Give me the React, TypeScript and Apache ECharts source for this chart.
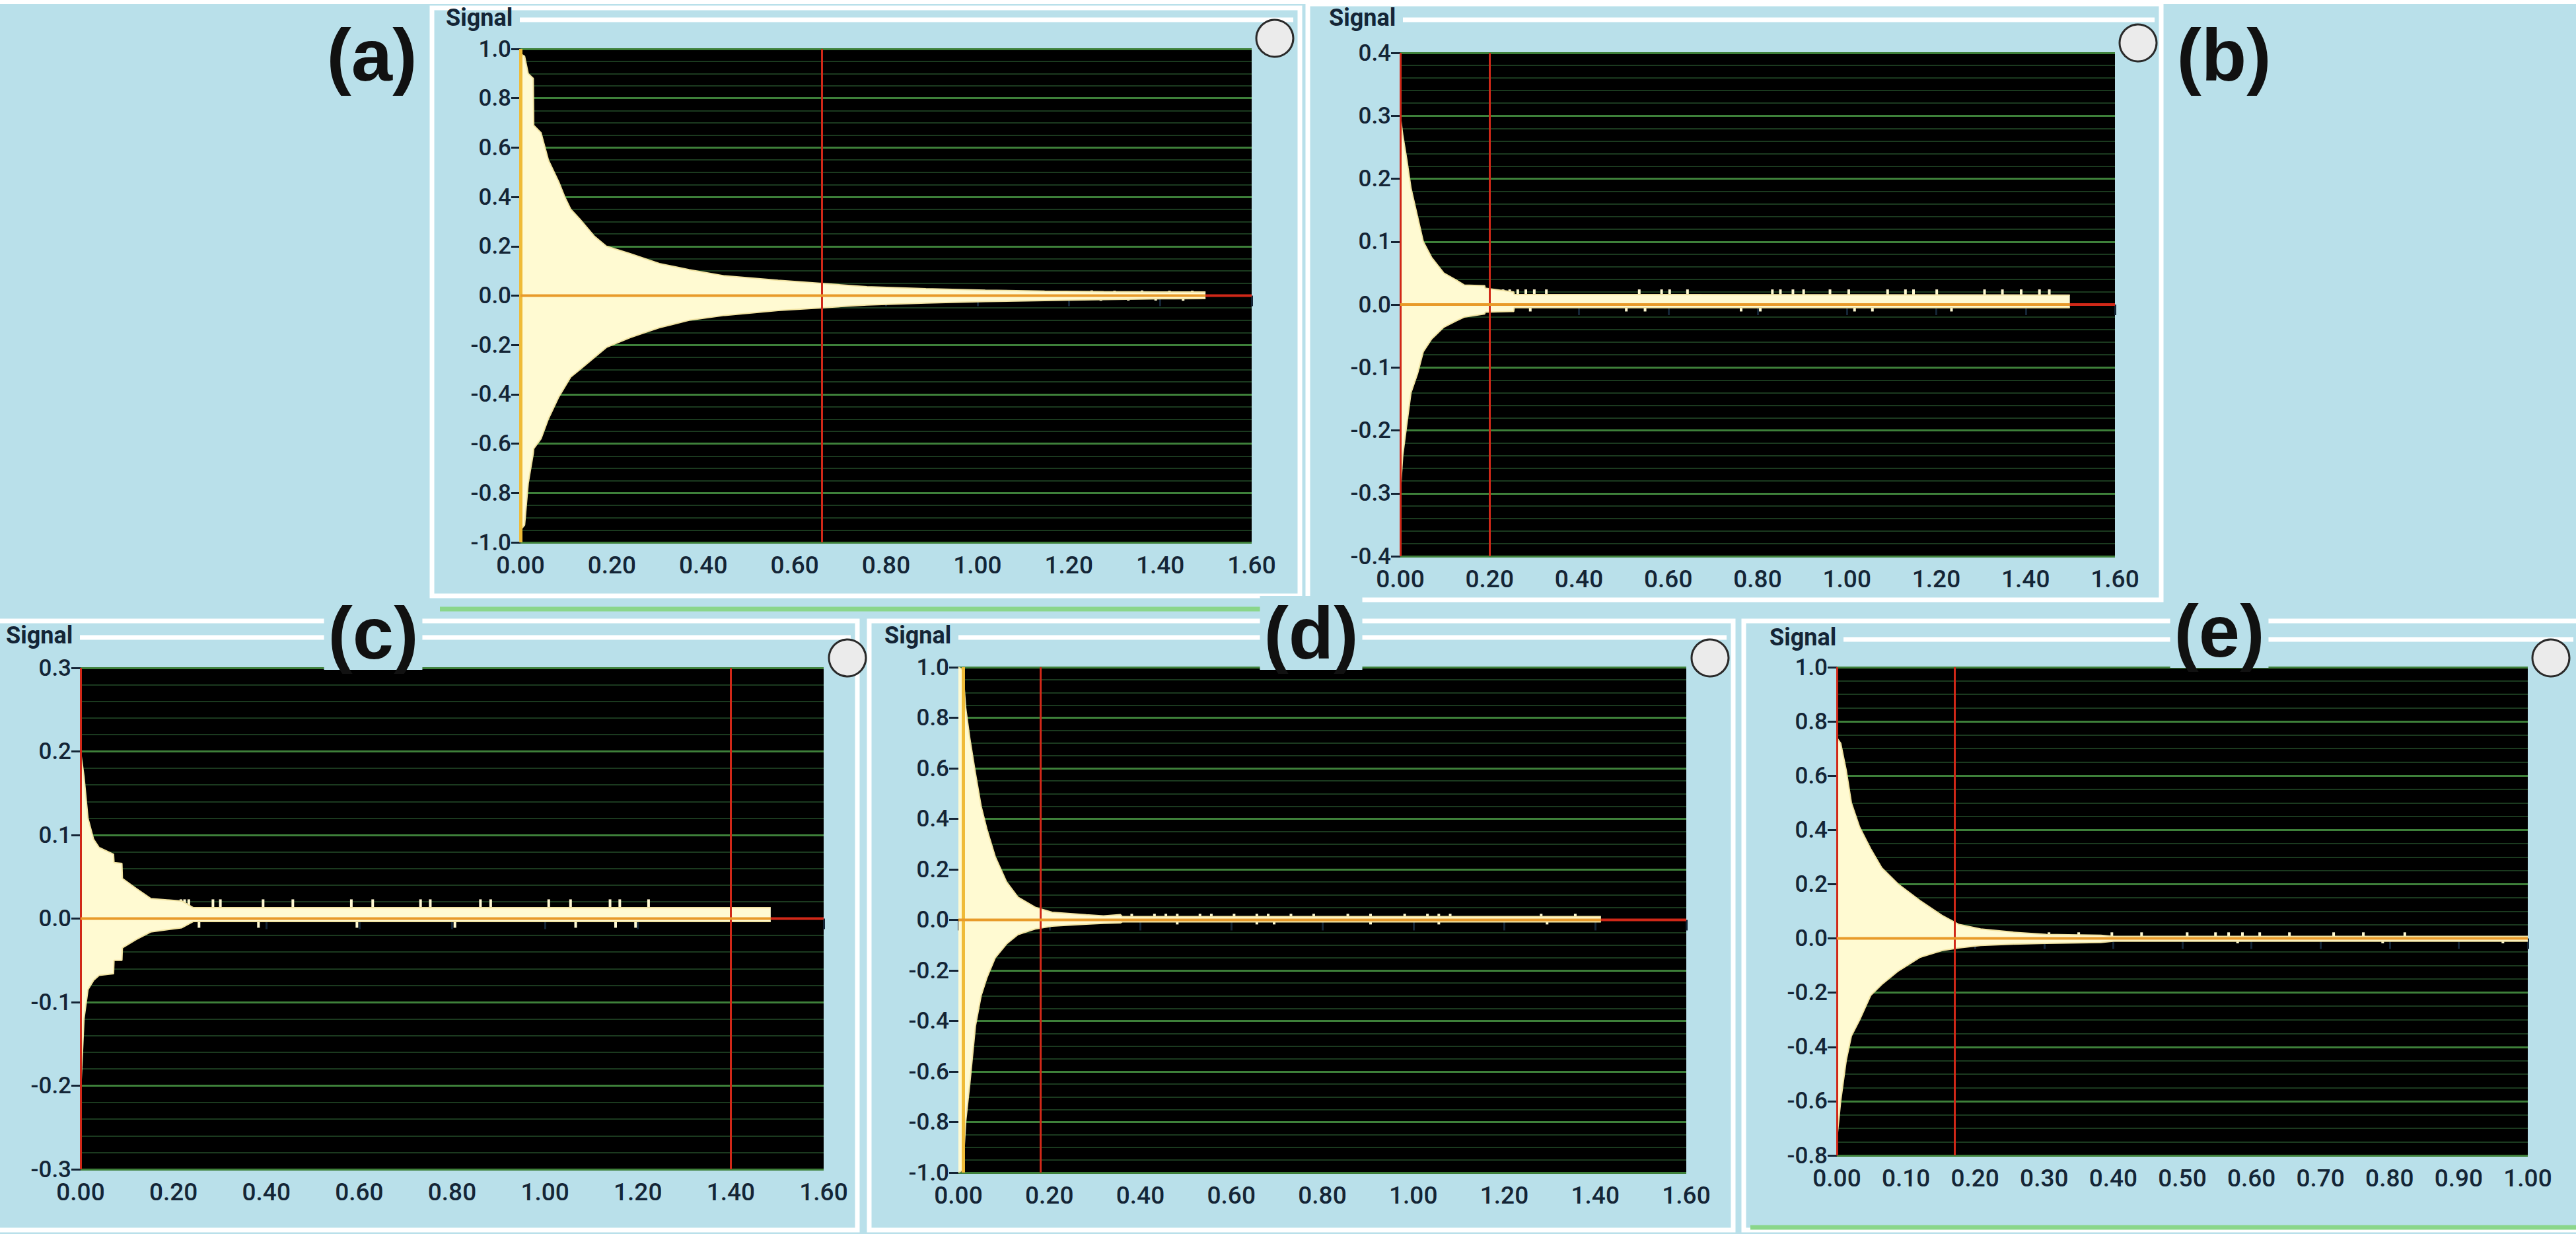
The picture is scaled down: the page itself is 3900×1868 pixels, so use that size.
import { useEffect, useRef } from 'react'
import * as echarts from 'echarts'

// decay envelopes: time (s), upper and lower signal
const tA = [0, 0.009, 0.017, 0.028, 0.029, 0.045, 0.061, 0.084, 0.097, 0.110, 0.130, 0.162, 0.188, 0.240, 0.304, 0.369, 0.447, 0.564, 0.654, 0.758, 0.887, 1.017, 1.147, 1.276, 1.400, 1.499]
const upA = [0.98, 0.97, 0.90, 0.88, 0.69, 0.66, 0.55, 0.46, 0.40, 0.35, 0.31, 0.24, 0.20, 0.17, 0.13, 0.105, 0.08, 0.062, 0.05, 0.036, 0.028, 0.022, 0.018, 0.016, 0.015, 0.015]
const loA = [-0.95, -0.93, -0.76, -0.64, -0.62, -0.58, -0.50, -0.41, -0.37, -0.33, -0.30, -0.25, -0.21, -0.17, -0.13, -0.10, -0.08, -0.06, -0.05, -0.038, -0.03, -0.024, -0.02, -0.016, -0.013, -0.012]
const spikesA = [[1.18, 0.02], [1.22, -0.02], [1.25, 0.021], [1.27, -0.021], [1.30, 0.02], [1.33, -0.02], [1.36, 0.021], [1.39, -0.02], [1.42, 0.02], [1.45, -0.021], [1.47, 0.02]]
const endA = 1.499
const cursorA = [0.004, 0.66]

const tB = [0, 0.0055, 0.0147, 0.024, 0.0386, 0.0515, 0.070, 0.0975, 0.125, 0.143, 0.189, 0.19, 0.254, 0.255, 1.499]
const upB = [0.30, 0.27, 0.23, 0.185, 0.14, 0.10, 0.075, 0.05, 0.039, 0.031, 0.03, 0.026, 0.02, 0.016, 0.015]
const loB = [-0.30, -0.24, -0.19, -0.14, -0.11, -0.075, -0.055, -0.036, -0.026, -0.02, -0.015, -0.012, -0.011, -0.005, -0.005]
const spikesB = [[0.230, 0.024], [0.245, 0.024], [0.263, 0.024], [0.281, 0.024], [0.291, -0.011], [0.300, 0.024], [0.327, 0.024], [0.506, -0.011], [0.535, 0.024], [0.548, -0.011], [0.585, 0.024], [0.603, 0.024], [0.643, 0.024], [0.763, -0.011], [0.806, -0.011], [0.833, 0.024], [0.851, 0.024], [0.879, 0.024], [0.903, 0.024], [0.962, 0.024], [1.004, 0.024], [1.017, -0.011], [1.057, -0.011], [1.091, 0.024], [1.131, 0.024], [1.149, 0.024], [1.201, 0.024], [1.234, -0.011], [1.308, 0.024], [1.348, 0.024], [1.390, 0.024], [1.431, 0.024], [1.453, 0.024]]
const endB = 1.499
const cursorB = [0, 0.195]

const tC = [0, 0.0074, 0.016, 0.028, 0.040, 0.071, 0.072, 0.089, 0.090, 0.120, 0.151, 0.218, 0.243, 1.486]
const upC = [0.20, 0.17, 0.12, 0.095, 0.085, 0.077, 0.067, 0.066, 0.048, 0.036, 0.024, 0.021, 0.013, 0.013]
const loC = [-0.21, -0.12, -0.085, -0.074, -0.068, -0.066, -0.05, -0.05, -0.035, -0.025, -0.016, -0.011, -0.0035, -0.0035]
const spikesC = [[0.154, -0.011], [0.206, -0.011], [0.216, 0.023], [0.224, 0.023], [0.233, 0.023], [0.255, -0.011], [0.285, 0.023], [0.301, 0.023], [0.383, -0.011], [0.393, 0.023], [0.457, 0.023], [0.583, 0.023], [0.595, -0.011], [0.629, 0.023], [0.732, 0.023], [0.753, 0.023], [0.806, -0.011], [0.861, 0.023], [0.883, 0.023], [1.008, 0.023], [1.055, 0.023], [1.066, -0.011], [1.140, 0.023], [1.152, -0.011], [1.161, 0.023], [1.195, -0.011], [1.223, 0.023]]
const endC = 1.486
const cursorC = [0, 1.40]

const tD = [0, 0.01, 0.016, 0.025, 0.0375, 0.05, 0.0625, 0.081, 0.106, 0.131, 0.169, 0.206, 0.281, 0.319, 0.356, 0.36, 1.4125]
const upD = [1.0, 0.99, 0.84, 0.72, 0.58, 0.45, 0.36, 0.25, 0.15, 0.09, 0.05, 0.03, 0.02, 0.016, 0.021, 0.013, 0.013]
const loD = [-1.0, -0.99, -0.80, -0.65, -0.42, -0.30, -0.23, -0.15, -0.095, -0.058, -0.036, -0.025, -0.017, -0.014, -0.012, -0.008, -0.008]
const spikesD = [[0.381, 0.024], [0.431, 0.024], [0.456, 0.024], [0.481, 0.024], [0.481, -0.018], [0.531, 0.024], [0.556, 0.024], [0.606, 0.024], [0.656, 0.024], [0.656, -0.018], [0.681, 0.024], [0.694, -0.018], [0.731, 0.024], [0.781, 0.024], [0.856, 0.024], [0.906, 0.024], [0.906, -0.018], [0.981, 0.024], [1.031, 0.024], [1.056, 0.024], [1.056, -0.018], [1.081, 0.024], [1.281, 0.024], [1.294, -0.018], [1.356, 0.024]]
const endD = 1.4125
const cursorD = [0.01, 0.18]

const tE = [0, 0.0055, 0.0135, 0.021, 0.033, 0.049, 0.065, 0.089, 0.120, 0.152, 0.176, 0.208, 0.255, 0.303, 0.382, 0.40, 1.0]
const upE = [0.74, 0.72, 0.62, 0.50, 0.41, 0.33, 0.26, 0.20, 0.14, 0.085, 0.052, 0.035, 0.023, 0.015, 0.012, 0.0075, 0.0075]
const loE = [-0.74, -0.60, -0.45, -0.36, -0.30, -0.21, -0.17, -0.12, -0.07, -0.045, -0.035, -0.026, -0.021, -0.018, -0.015, -0.0105, -0.0105]
const spikesE = [[0.307, 0.0225], [0.350, 0.0225], [0.398, 0.0225], [0.441, 0.0225], [0.507, 0.0225], [0.548, 0.0225], [0.567, 0.0225], [0.580, -0.018], [0.587, 0.0225], [0.612, 0.0225], [0.655, 0.0225], [0.719, 0.0225], [0.762, 0.0225], [0.790, -0.018], [0.822, 0.0225], [0.964, -0.018]]
const endE = 1.0
const cursorE = [0, 0.175]

const letters = ['(a)', '(b)', '(c)', '(d)', '(e)']

const BLUE = '#b9e0ea'
const FILL = '#fffad2'
const EDGE = '#f1e3a2'
const ORANGE = '#e89a2a'
const RED = '#d02818'
const GOLD = '#efbb38'
const MAJOR = '#3e803a'
const MINOR = '#1b3a1f'
const INK = '#142536'
const LABEL_FONT = 'Roboto, "Liberation Sans", sans-serif'

const panels = [
  { grid: { left: 788, top: 74, width: 1107, height: 747 }, xMax: 1.6, xStep: 0.2, yMin: -1, yMax: 1, yStep: 0.2, minor: 4,
    t: tA, up: upA, lo: loA, spikes: spikesA, end: endA, cursors: cursorA, cursorColors: [GOLD, RED],
    frame: [654, 12, 1314, 890], signal: [675, 27], knob: [1930, 58], letter: [563, 83] },
  { grid: { left: 2120, top: 80, width: 1082, height: 762 }, xMax: 1.6, xStep: 0.2, yMin: -0.4, yMax: 0.4, yStep: 0.1, minor: 5,
    t: tB, up: upB, lo: loB, spikes: spikesB, end: endB, cursors: cursorB, cursorColors: [RED, RED],
    frame: [1980, 6, 1292, 902], signal: [2012, 27], knob: [3237, 65], letter: [3367, 83] },
  { grid: { left: 122, top: 1011, width: 1125, height: 759 }, xMax: 1.6, xStep: 0.2, yMin: -0.3, yMax: 0.3, yStep: 0.1, minor: 5,
    t: tC, up: upC, lo: loC, spikes: spikesC, end: endC, cursors: cursorC, cursorColors: [RED, RED],
    frame: [-4, 940, 1302, 922], signal: [9, 962], knob: [1283, 996], letter: [565, 958] },
  { grid: { left: 1451, top: 1010, width: 1102, height: 765 }, xMax: 1.6, xStep: 0.2, yMin: -1, yMax: 1, yStep: 0.2, minor: 4,
    t: tD, up: upD, lo: loD, spikes: spikesD, end: endD, cursors: cursorD, cursorColors: [GOLD, RED],
    frame: [1316, 940, 1308, 922], signal: [1339, 962], knob: [2589, 996], letter: [1985, 958] },
  { grid: { left: 2781, top: 1010, width: 1046, height: 739 }, xMax: 1.0, xStep: 0.1, yMin: -0.8, yMax: 1, yStep: 0.2, minor: 4,
    t: tE, up: upE, lo: loE, spikes: spikesE, end: endE, cursors: cursorE, cursorColors: [RED, RED],
    frame: [2640, 940, 1266, 922], signal: [2679, 965], knob: [3862, 996], letter: [3360, 955] },
]

const fix = (v: number, d: number) => (Math.abs(v) < 1e-9 ? 0 : v).toFixed(d)

function buildOption() {
  const grid = panels.map(p => ({ ...p.grid, show: true, backgroundColor: '#000', borderWidth: 0 }))

  const xAxis = panels.map((p, i) => ({
    type: 'value', gridIndex: i, min: 0, max: p.xMax, interval: p.xStep, offset: 4,
    axisLine: { show: false },
    axisTick: { show: true, length: 16, lineStyle: { color: INK, width: 3 } },
    axisLabel: { margin: 12, fontSize: 37, fontWeight: 500, fontFamily: LABEL_FONT, color: INK, formatter: (v: number) => fix(v, 2) },
    splitLine: { show: false }
  }))

  const yAxis = panels.map((p, i) => ({
    type: 'value', gridIndex: i, min: p.yMin, max: p.yMax, interval: p.yStep, offset: 8,
    axisLine: { show: false },
    axisTick: { show: true, length: 14, lineStyle: { color: INK, width: 3 } },
    axisLabel: { margin: 6, fontSize: 35, fontWeight: 500, fontFamily: LABEL_FONT, color: INK, formatter: (v: number) => fix(v, 1) },
    splitLine: { show: true, lineStyle: { color: MAJOR, width: 3 } },
    minorTick: { show: false, splitNumber: p.minor },
    minorSplitLine: { show: true, lineStyle: { color: MINOR, width: 2 } }
  }))

  const series: any[] = []
  panels.forEach((p, i) => {
    const axes = { xAxisIndex: i, yAxisIndex: i }
    series.push({
      type: 'bar', ...axes, barWidth: 4, silent: true, z: 2,
      data: p.spikes, itemStyle: { color: FILL }
    })
    const env = (vals: number[]) => ({
      type: 'line', ...axes, silent: true, z: 3, symbol: 'none',
      data: p.t.map((t, j) => [t, vals[j]]),
      lineStyle: { color: EDGE, width: 2 },
      areaStyle: { color: FILL, opacity: 1, origin: 'auto' }
    })
    series.push(env(p.up), env(p.lo))
    series.push({
      type: 'line', ...axes, silent: true, z: 5, symbol: 'none',
      data: [[0, 0], [p.end, 0]],
      lineStyle: { color: ORANGE, width: 4 },
      markLine: {
        silent: true, symbol: ['none', 'none'], label: { show: false },
        data: p.cursors.map((x, j) => ({ xAxis: x, lineStyle: { color: p.cursorColors[j], width: p.cursorColors[j] === GOLD ? 5 : 3, type: 'solid' } }))
      }
    })
    if (p.end < p.xMax) {
      series.push({
        type: 'line', ...axes, silent: true, z: 5, symbol: 'none',
        data: [[p.end, 0], [p.xMax, 0]],
        lineStyle: { color: RED, width: 4 }
      })
    }
  })

  const graphic: any[] = []
  // page top edge and strips between the rows
  graphic.push({ type: 'rect', z: -20, shape: { x: 0, y: 0, width: 3900, height: 6 }, style: { fill: '#ffffff' } })
  graphic.push({ type: 'line', z: -5, shape: { x1: 666, y1: 922, x2: 1966, y2: 922 }, style: { stroke: '#8ad68a', lineWidth: 7 } })
  graphic.push({ type: 'line', z: -5, shape: { x1: 2650, y1: 1858, x2: 3900, y2: 1858 }, style: { stroke: '#8ad68a', lineWidth: 7 } })
  panels.forEach((p, i) => {
    const [fx, fy, fw, fh] = p.frame
    graphic.push({ type: 'rect', z: -10, shape: { x: fx, y: fy, width: fw, height: fh }, style: { fill: BLUE, stroke: '#ffffff', lineWidth: 7 } })
    graphic.push({ type: 'line', z: -9, shape: { x1: p.signal[0] + 112, y1: p.signal[1] + 3, x2: fx + fw - 10, y2: p.signal[1] + 3 }, style: { stroke: '#ffffff', lineWidth: 7 } })
    graphic.push({
      type: 'text', z: 10,
      style: { text: 'Signal', x: p.signal[0], y: p.signal[1], fill: INK, fontSize: 36, fontWeight: 'bold', fontFamily: LABEL_FONT, verticalAlign: 'middle' }
    })
    graphic.push({ type: 'circle', z: 10, shape: { cx: p.knob[0], cy: p.knob[1], r: 28 }, style: { fill: '#ebebeb', stroke: '#2a2a2a', lineWidth: 3 } })
    graphic.push({
      type: 'text', z: 20,
      style: {
        text: letters[i], x: p.letter[0], y: p.letter[1], fill: '#111111', fontSize: 112, fontWeight: 'bold',
        fontFamily: '"Liberation Sans", Arial, sans-serif', align: 'center', verticalAlign: 'middle',
        backgroundColor: i >= 2 ? BLUE : 'transparent', padding: [0, 6]
      }
    })
  })

  return { animation: false, backgroundColor: BLUE, grid, xAxis, yAxis, series, graphic }
}

export default function App() {
  const chartRef = useRef<HTMLDivElement>(null)

  useEffect(() => {
    if (!chartRef.current) return
    const chart = echarts.init(chartRef.current, undefined, { renderer: 'svg' })
    chart.setOption(buildOption() as any)
    return () => chart.dispose()
  }, [])

  return <div ref={chartRef} style={{ position: 'absolute', left: 0, top: 0, width: 3900, height: 1868 }} />
}
